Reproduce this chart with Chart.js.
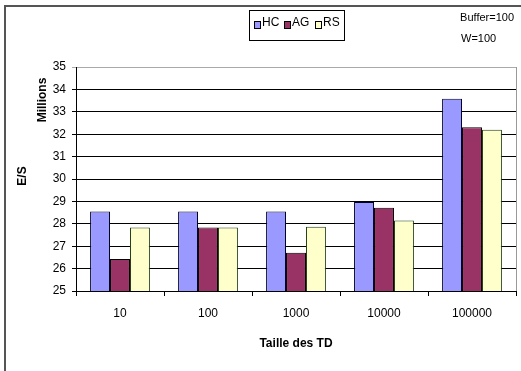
<!DOCTYPE html>
<html>
<head>
<meta charset="utf-8">
<script src="https://cdn.jsdelivr.net/npm/chart.js@4/dist/chart.umd.min.js"></script>
<style>
  html, body { margin: 0; padding: 0; background: #fff; }
  #wrap { width: 521px; height: 371px; position: relative; }
</style>
</head>
<body>
<div id="wrap"><canvas id="c"></canvas></div>
<script>
// Données (E/S, en millions)
const tailles = ['10', '100', '1000', '10000', '100000'];
const hc = [28.55, 28.55, 28.55, 28.97, 33.58];
const ag = [26.43, 27.83, 26.71, 28.72, 32.31];
const rs = [27.83, 27.83, 27.87, 28.15, 32.2];
const yTicks = [25, 26, 27, 28, 29, 30, 31, 32, 33, 34, 35];

const FONT = "'Liberation Sans Narrow', 'Liberation Sans', Arial, sans-serif";
const COLORS = { HC: '#9999ff', AG: '#993366', RS: '#ffffcc' };
const BORDERS = { HC: '#000022', AG: '#000000', RS: '#1f3d17' };

// Cadre extérieur, légende encadrée, notes et titres « Millions » / « E/S »
const decorPlugin = {
  id: 'decor',
  afterDraw(chart) {
    const { ctx, chartArea } = chart;
    ctx.save();
    // cadre du graphique
    ctx.strokeStyle = '#555';
    ctx.lineWidth = 2;
    ctx.strokeRect(5, 6, 530, 380);
    // bord droit de la zone de tracé
    ctx.strokeStyle = '#999';
    ctx.lineWidth = 1;
    ctx.beginPath();
    ctx.moveTo(chartArea.right + 0.5, chartArea.top);
    ctx.lineTo(chartArea.right + 0.5, chartArea.bottom);
    ctx.stroke();

    // légende
    ctx.strokeStyle = '#000';
    ctx.strokeRect(249.5, 10.5, 95, 30);
    ctx.font = '12px ' + FONT;
    ctx.textBaseline = 'middle';
    ctx.textAlign = 'left';
    const items = [['HC', 254], ['AG', 284], ['RS', 315]];
    for (const [name, x] of items) {
      ctx.fillStyle = COLORS[name];
      ctx.fillRect(x, 21, 6, 7);
      ctx.strokeStyle = '#000';
      ctx.strokeRect(x + 0.5, 21.5, 6, 7);
      ctx.fillStyle = '#000';
      ctx.fillText(name, x + 8, 23);
    }

    // notes
    ctx.font = '11px ' + FONT;
    ctx.textAlign = 'right';
    ctx.fillText('Buffer=100', 514, 18);
    ctx.textAlign = 'left';
    ctx.fillText('W=100', 461, 39);

    // titres verticaux
    ctx.font = 'bold 12px ' + FONT;
    ctx.textAlign = 'center';
    ctx.translate(43, 100);
    ctx.rotate(-Math.PI / 2);
    ctx.fillText('Millions', 0, 0);
    ctx.rotate(Math.PI / 2);
    ctx.translate(-43, -100);
    ctx.translate(23, 176);
    ctx.rotate(-Math.PI / 2);
    ctx.fillText('E/S', 0, 0);
    ctx.restore();
  },
};

new Chart(document.getElementById('c'), {
  type: 'bar',
  data: {
    labels: tailles,
    datasets: [
      { label: 'HC', data: hc, backgroundColor: COLORS.HC, borderColor: BORDERS.HC, borderWidth: 1 },
      { label: 'AG', data: ag, backgroundColor: COLORS.AG, borderColor: BORDERS.AG, borderWidth: 1 },
      { label: 'RS', data: rs, backgroundColor: COLORS.RS, borderColor: BORDERS.RS, borderWidth: 1 },
    ],
  },
  options: {
    responsive: true,
    maintainAspectRatio: false,
    animation: false,
    devicePixelRatio: 1,
    layout: { padding: { left: 0, right: 5, top: 67, bottom: 0 } },
    datasets: { bar: { categoryPercentage: 0.68, barPercentage: 1.0 } },
    scales: {
      x: {
        grid: { offset: true, drawOnChartArea: false, drawTicks: true, tickLength: 5, color: '#000' },
        border: { color: '#000' },
        ticks: { color: '#000', font: { family: FONT, size: 12 }, padding: 10, maxRotation: 0 },
        title: { display: true, text: 'Taille des TD', color: '#000', font: { family: FONT, size: 12, weight: 'bold' }, padding: { top: 4, bottom: 20 } },
        afterFit(s) { s.height = 80; },
      },
      y: {
        min: 25, max: 35,
        afterBuildTicks(s) { s.ticks = yTicks.map((v) => ({ value: v })); },
        grid: {
          color: (c) => (c.tick && c.tick.value === 35 ? '#aaa' : '#000'),
          tickLength: 4,
          drawTicks: true,
        },
        border: { color: '#000' },
        ticks: { color: '#000', font: { family: FONT, size: 12 }, padding: 6 },
        afterFit(s) { s.width = 76; },
      },
    },
    plugins: {
      legend: { display: false },
      tooltip: { enabled: false },
    },
  },
  plugins: [decorPlugin],
});
</script>
</body>
</html>
